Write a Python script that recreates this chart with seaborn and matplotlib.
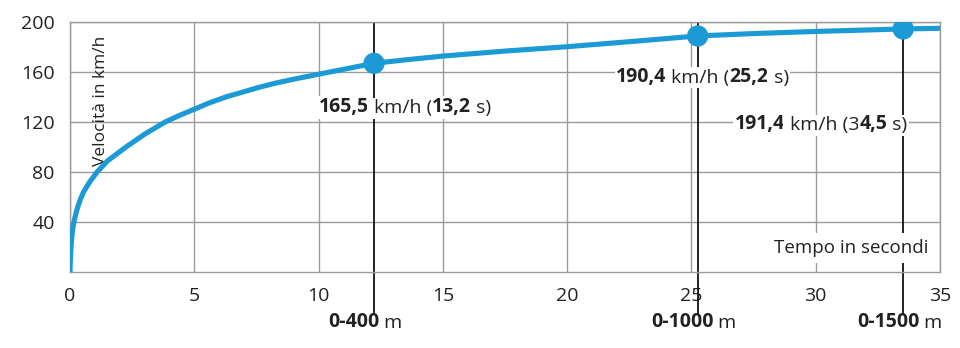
import matplotlib
matplotlib.use("Agg")
import matplotlib.pyplot as plt
import seaborn as sns
import pandas as pd

# ---- data ----
time_s = [0, 0.01, 0.03, 0.06, 0.1, 0.16, 0.23, 0.3, 0.42, 0.55, 0.8, 1.1, 1.5,
          2.2, 3.0, 3.85, 4.4, 5, 5.6, 6.3, 7.0, 7.6, 8.3, 9, 10, 10.9, 12.23,
          13.5, 15, 17.5, 20, 22.5, 25.25, 27.5, 30, 33.5, 35]
speed_kmh = [0, 8, 16, 25, 33, 40, 46, 51, 58, 64, 72, 80, 88.5,
             99, 110, 120, 125, 130, 135, 140, 144, 147.5, 151, 154, 158, 161.5, 166.7,
             169.5, 172.5, 176.5, 180, 184, 188.6, 190.5, 192.2, 194.2, 194.7]

marker_t = [12.23, 25.25, 33.52]
marker_v = [166.7, 188.6, 194.2]

x_ticks = [0, 5, 10, 15, 20, 25, 30, 35]
y_ticks = [40, 80, 120, 160, 200]

# annotation pieces: (text, bold)
speed_labels = [
    [("165,5", True), (" km/h (", False), ("13,2", True), (" s)", False)],
    [("190,4", True), (" km/h (", False), ("25,2", True), (" s)", False)],
    [("191,4", True), (" km/h (3", False), ("4,5", True), (" s)", False)],
]
dist_labels = [
    [("0-400", True), (" m", False)],
    [("0-1000", True), (" m", False)],
    [("0-1500", True), (" m", False)],
]

sns.set_theme(style="white")
plt.rcParams["font.family"] = ["Open Sans", "DejaVu Sans"]

BLUE = "#1b9ad6"
GRID = "#9a9a9a"
TXT = "#222222"

fig = plt.figure(figsize=(9.6, 3.48), dpi=100)
ax = fig.add_axes([70 / 960, 1 - 271.7 / 348, 870 / 960, 250 / 348])

df = pd.DataFrame({"t": time_s, "v": speed_kmh})
ax.set_xlim(0, 35)
ax.set_ylim(0, 200)
ax.set_xticks(x_ticks)
ax.set_yticks(y_ticks)
ax.grid(True, color=GRID, lw=1.0)
ax.set_axisbelow(True)
for s in ax.spines.values():
    s.set_color(GRID)
    s.set_linewidth(1.0)
ax.tick_params(axis="both", length=0, labelsize=14, labelcolor=TXT, pad=11)

# black reference lines through markers, extending below the axis
ax.vlines(marker_t, -35, 200, color="#111111", lw=1.3, clip_on=False, zorder=2)

sns.lineplot(data=df, x="t", y="v", ax=ax, color=BLUE, lw=3.7, zorder=4,
             solid_capstyle="round", solid_joinstyle="round")
sns.scatterplot(x=marker_t, y=marker_v, ax=ax, color=BLUE, s=235, zorder=5,
                edgecolor="none", linewidth=0)
ax.set_xlabel("")
ax.set_ylabel("")


def rich(ax, x, y, pieces, fs=14, bg=True):
    kw = dict(fontsize=fs, color=TXT, zorder=6, clip_on=False)
    if bg:
        kw["bbox"] = dict(boxstyle="square,pad=0.08", fc="white", ec="none")
    prev = None
    for txt, bold in pieces:
        w = "bold" if bold else "normal"
        if prev is None:
            prev = ax.text(x, y, txt, fontweight=w, va="center", ha="left", **kw)
        else:
            prev = ax.annotate(txt, xy=(1, 0), xycoords=prev, va="bottom",
                               ha="left", fontweight=w, **kw)
    return prev


label_pos = [(10.0, 131.5), (21.97, 156), (26.75, 118)]
for (x, y), pieces in zip(label_pos, speed_labels):
    rich(ax, x, y, pieces)

dist_pos = [10.38, 23.37, 31.66]
for x, pieces in zip(dist_pos, dist_labels):
    rich(ax, x, -40, pieces, bg=False)

# axis captions
ax.text(1.25, 189, "Velocità in km/h", rotation=90, ha="center", va="top",
        fontsize=12.5, color=TXT, zorder=3)
ax.text(34.55, 19, "Tempo in secondi", ha="right", va="center",
        fontsize=13.5, color=TXT, zorder=6,
        bbox=dict(boxstyle="square,pad=0.3", fc="white", ec="none"))

fig.savefig("out.png", dpi=100, facecolor="white")
